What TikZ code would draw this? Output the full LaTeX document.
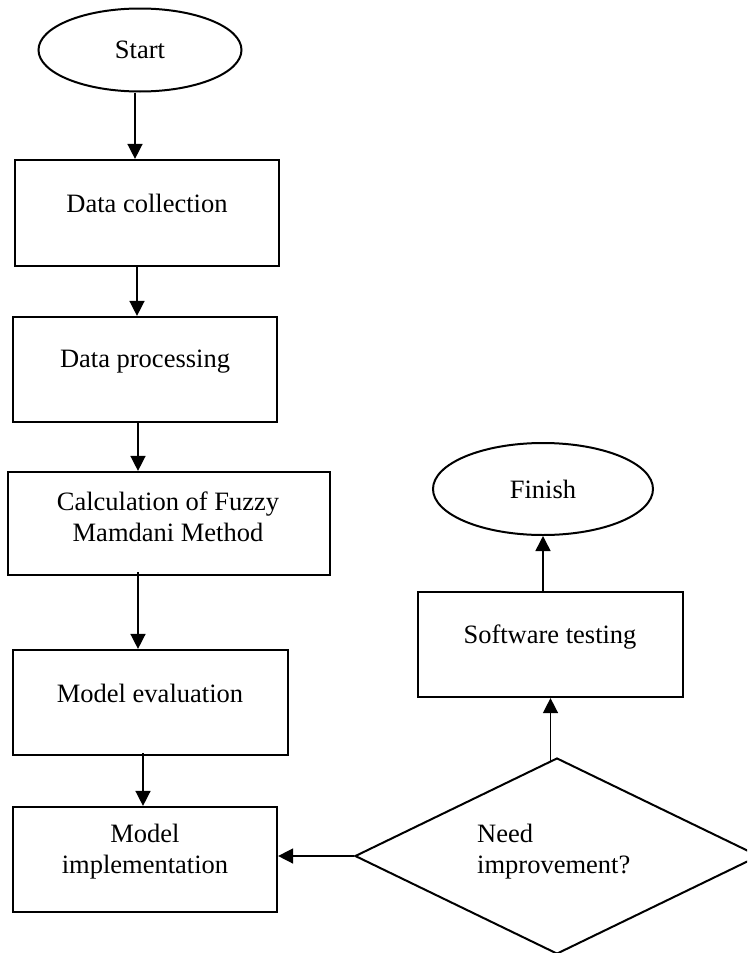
\documentclass[tikz,border=0pt]{standalone}
\usepackage{fontspec}
\setmainfont{Liberation Serif}
\usetikzlibrary{shapes.geometric,arrows.meta}
\tikzset{
  box/.style={draw, line width=2.2pt, rectangle, inner sep=0pt},
  oval/.style={draw, line width=2pt, ellipse, inner sep=0pt, font=\fontsize{26.5}{31}\selectfont},
  decision/.style={draw, line width=2pt, diamond, inner sep=0pt},
  txt/.style={inner sep=0pt, align=center, font=\fontsize{26.5}{31}\selectfont},
  arr/.style={line width=1.5pt, -{Triangle[length=15pt,width=15pt]}}
}
\begin{document}
\begin{tikzpicture}[x=1pt,y=-1pt]
\clip (0,0) rectangle (747,953);
\fill[white] (0,0) rectangle (747,953);
% left column
\node[oval, minimum width=203pt, minimum height=83pt] (start) at (140,50) {Start};
\node[box, minimum width=264pt, minimum height=106pt] (dc) at (147,213) {};
\node[txt] (dct) at (147,203) {Data collection};
\node[box, minimum width=264pt, minimum height=105pt] (dp) at (145,369.5) {};
\node[txt] (dpt) at (145,362) {Data processing};
\node[box, minimum width=322pt, minimum height=103pt] (calc) at (169,523.5) {};
\node[txt] (calct) at (168,517) {Calculation of Fuzzy\\Mamdani Method};
\node[box, minimum width=275pt, minimum height=105pt] (me) at (150.5,702.5) {};
\node[txt] (met) at (150,693) {Model evaluation};
\node[box, minimum width=264pt, minimum height=105pt] (mi) at (145,859.5) {};
\node[txt] (mit) at (145,852) {Model\\implementation};
% right column
\node[oval, minimum width=220pt, minimum height=92pt] (fin) at (543,489) {Finish};
\node[box, minimum width=265pt, minimum height=105pt] (st) at (550.5,644.5) {};
\node[txt] (stt) at (550,637) {Software testing};
\node[decision, minimum width=404pt, minimum height=196pt] (dec) at (557,856) {};
\node[txt, align=left, anchor=west] (dect) at (477,852) {Need\\improvement?};
% connectors
\draw[arr] ([xshift=-5pt]start.south) -- ([xshift=-5pt]start.south |- dc.north);
\draw[arr] ([xshift=-10pt]dc.south) -- ([xshift=-10pt]dc.south |- dp.north);
\draw[arr] ([xshift=-7pt]dp.south) -- ([xshift=-7pt]dp.south |- calc.north);
\draw[arr] ([xshift=-31pt,yshift=4pt]calc.south) -- ([xshift=-31pt]calc.south |- me.north);
\draw[arr] ([xshift=-7.5pt,yshift=3pt]me.south) -- ([xshift=-7.5pt]me.south |- mi.north);
\draw[arr] (dec.west) -- (dec.west -| mi.east);
\draw[arr] ([yshift=-3.5pt]dec.north -| st.south) -- (st.south);
\draw[arr] (fin.south |- st.north) -- (fin.south);
\end{tikzpicture}
\end{document}
